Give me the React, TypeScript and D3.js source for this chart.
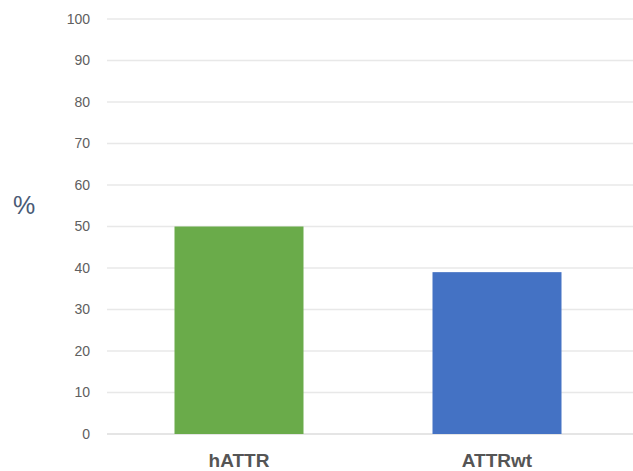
import React from "react";
import * as d3 from "d3";

const categories = ["hATTR", "ATTRwt"];
const values = [50, 39];
const colors = ["#6aab4a", "#4472c4"];
const yTicks = [0, 10, 20, 30, 40, 50, 60, 70, 80, 90, 100];

export default function App() {
  const W = 633, H = 471;
  const y = d3.scaleLinear().domain([0, 100]).range([434, 19]);
  const x = d3.scaleBand<string>().domain(categories).range([110, 626]).paddingInner(0.5).paddingOuter(0.25);
  return (
    <svg width={W} height={H} style={{ position: "absolute", left: 0, top: 0, background: "#fff" }} fontFamily="'Liberation Sans', Arial, sans-serif">
      {yTicks.map((t) => (
        <g key={t}>
          <line x1={107} x2={633} y1={y(t)} y2={y(t)} stroke={t === 0 ? "#dcdcdc" : "#e8e8e8"} strokeWidth={1.5} />
          <text x={90} y={y(t)} dy="0.35em" textAnchor="end" fontSize={14} fill="#606060">{t}</text>
        </g>
      ))}
      {categories.map((c, i) => (
        <g key={c}>
          <rect x={x(c)} y={y(values[i])} width={x.bandwidth()} height={y(0) - y(values[i])} fill={colors[i]} />
          <text x={(x(c) as number) + x.bandwidth() / 2} y={460} dy="0.35em" textAnchor="middle" fontSize={19} fontWeight="bold" fill="#555">{c}</text>
        </g>
      ))}
      <text x={24} y={205} dy="0.35em" textAnchor="middle" fontSize={25} fill="#4a5a75">%</text>
    </svg>
  );
}
